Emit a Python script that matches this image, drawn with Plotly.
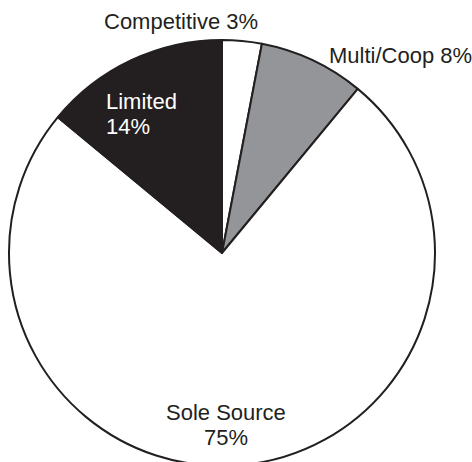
import plotly.graph_objects as go

W, H = 472, 470  # a bit taller than the window so the circle runs off the bottom edge

labels = ['Competitive', 'Multi/Coop', 'Sole Source', 'Limited']
values = [3, 8, 75, 14]
colors = ['#ffffff', '#939598', '#ffffff', '#231f20']

# label placement in screen pixels: (x, y of first line, anchor, colour, gap to 2nd line or None)
label_pos = {
    'Competitive': (181, 21, 'center', '#231f20', None),
    'Multi/Coop': (400, 55, 'center', '#231f20', None),
    'Limited': (104, 101, 'left', '#ffffff', 25),
    'Sole Source': (226, 412, 'center', '#231f20', 25),
}

def px2paper(x, y):
    return x / W, 1 - y / H

x0, y0 = px2paper(9, 466)
x1, y1 = px2paper(435, 40)

fig = go.Figure(go.Pie(
    labels=labels,
    values=values,
    sort=False,
    direction='clockwise',
    rotation=0,
    marker=dict(colors=colors, line=dict(color='#231f20', width=2)),
    textinfo='none',
    hoverinfo='none',
    domain=dict(x=[x0, x1], y=[y0, y1]),
    showlegend=False,
))

def add_text(sx, sy, txt, anchor, col):
    ax, ay = px2paper(sx, sy)
    fig.add_annotation(
        x=ax, y=ay, xref='paper', yref='paper',
        text=txt, showarrow=False, xanchor=anchor, yanchor='middle',
        font=dict(color=col, size=22, family='Liberation Sans, Arial, sans-serif'),
    )

for lab, val in zip(labels, values):
    sx, sy, anchor, col, gap = label_pos[lab]
    if gap is None:
        add_text(sx, sy, f'{lab} {val}%', anchor, col)
    else:
        add_text(sx, sy, lab, anchor, col)
        add_text(sx, sy + gap, f'{val}%', anchor, col)

fig.update_layout(
    width=W, height=H,
    margin=dict(l=0, r=0, t=0, b=0),
    paper_bgcolor='white',
    plot_bgcolor='white',
    font=dict(family='Liberation Sans, Arial, sans-serif'),
)

fig.write_html('out.html',
               config={'displayModeBar': False},
               post_script="document.body.style.margin='0';document.body.style.overflow='hidden';")
